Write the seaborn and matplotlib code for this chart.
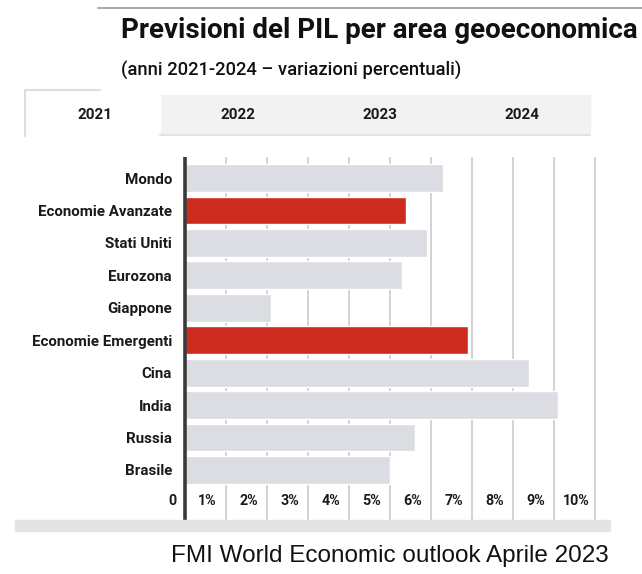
import matplotlib
matplotlib.use("Agg")
import matplotlib.pyplot as plt
import seaborn as sns
import pandas as pd
from matplotlib.patches import Rectangle
from matplotlib.lines import Line2D

# Crescita del PIL 2021 per area (variazione percentuale)
aree = ["Mondo", "Economie Avanzate", "Stati Uniti", "Eurozona", "Giappone",
        "Economie Emergenti", "Cina", "India", "Russia", "Brasile"]
crescita_2021 = [6.3, 5.4, 5.9, 5.3, 2.1, 6.9, 8.4, 9.1, 5.6, 5.0]
gruppo = ["paese", "aggregato", "paese", "paese", "paese",
          "aggregato", "paese", "paese", "paese", "paese"]
anni = ["2021", "2022", "2023", "2024"]
tick_etichette = ["0", "1%", "2%", "3%", "4%", "5%", "6%", "7%", "8%", "9%", "10%"]

titolo = "Previsioni del PIL per area geoeconomica"
sottotitolo = "(anni 2021-2024 \u2013 variazioni percentuali)"
fonte = "FMI World Economic outlook Aprile 2023"

sns.set_theme(style="white")
plt.rcParams["font.family"] = ["Roboto", "DejaVu Sans"]

W, H = 642, 574
fig = plt.figure(figsize=(W / 100, H / 100), dpi=100)
fig.patch.set_facecolor("white")


def fx(px):
    return px / W


def fy(py):
    return 1 - py / H


# Plot area: zero at x=185 px, 41 px per percentage point
unit = 41.0
x0_lim, x1_lim = -0.45, 10.3
left_px = 185 + x0_lim * unit
right_px = 185 + x1_lim * unit
top_px, bottom_px = 157, 520
ax = fig.add_axes([fx(left_px), fy(bottom_px), fx(right_px) - fx(left_px),
                   fy(top_px) - fy(bottom_px)])

df = pd.DataFrame({"area": aree, "valore": crescita_2021, "gruppo": gruppo})
sns.barplot(data=df, y="area", x="valore", hue="gruppo", order=aree,
            palette={"paese": "#dcdde2", "aggregato": "#cc2b1e"},
            dodge=False, width=0.86, saturation=1, legend=False, ax=ax,
            orient="h")

ax.set_xlim(x0_lim, x1_lim)
row = 32.4
ax.set_ylim(9 + (bottom_px - 470) / row, -(178 - top_px) / row)
ax.set_xlabel("")
ax.set_ylabel("")
for s in ax.spines.values():
    s.set_visible(False)

# gridlines at each percentage point, labels sit between them
ax.set_xticks(range(1, 11), minor=True)
ax.set_xticks([-0.3] + [k - 0.45 for k in range(1, 11)])
ax.set_xticklabels(tick_etichette, fontsize=10.3, fontweight="bold", color="#1a1a1a")
ax.grid(False)
ax.grid(True, which="minor", axis="x", color="#cfcfcf", lw=1.3)
ax.set_axisbelow(True)
ax.tick_params(axis="x", which="both", length=0, pad=-18.5)
ax.tick_params(axis="y", length=0, pad=-4)
for lab in ax.get_yticklabels():
    lab.set_fontsize(10.9)
    lab.set_fontweight("bold")
    lab.set_color("#1a1a1a")
ax.axvline(0, color="#3a3a3a", lw=2.6, zorder=5)

# bottom band under the axis
fig.patches.append(Rectangle((fx(15), fy(531)), fx(610) - fx(15), fy(520) - fy(531),
                             transform=fig.transFigure, color="#e4e4e4", zorder=0))

# header rule
fig.add_artist(Line2D([fx(98), fx(642)], [fy(8), fy(8)], transform=fig.transFigure,
                      color="#9a9a9a", lw=1.2))

fig.text(fx(121), fy(30), titolo, fontsize=20, fontweight="bold", color="#111111",
         va="center", ha="left")
fig.text(fx(121), fy(71), sottotitolo, fontsize=13.2, fontweight="medium",
         color="#111111", va="center", ha="left")

# year tabs
fig.patches.append(Rectangle((fx(25), fy(134)), fx(590) - fx(25), fy(95) - fy(134),
                             transform=fig.transFigure, color="#f2f2f2", zorder=0))
fig.add_artist(Line2D([fx(160), fx(590)], [fy(135), fy(135)], transform=fig.transFigure,
                      color="#e2e2e2", lw=1.5))
fig.patches.append(Rectangle((fx(25), fy(136)), fx(160) - fx(25), fy(90) - fy(136),
                             transform=fig.transFigure, color="white", zorder=1))
fig.add_artist(Line2D([fx(25), fx(25), fx(100)], [fy(136), fy(90), fy(90)],
                      transform=fig.transFigure, color="#dedede", lw=1.5))
for anno, xp in zip(anni, [95, 238, 380, 522]):
    fig.text(fx(xp), fy(115), anno, fontsize=11, fontweight="bold", color="#1a1a1a",
             ha="center", va="center")

fig.text(fx(390), fy(556), fonte, fontsize=17.5, family=["Liberation Sans", "DejaVu Sans"],
         color="#111111", ha="center", va="center")

fig.savefig("out.png", dpi=100, facecolor="white")
